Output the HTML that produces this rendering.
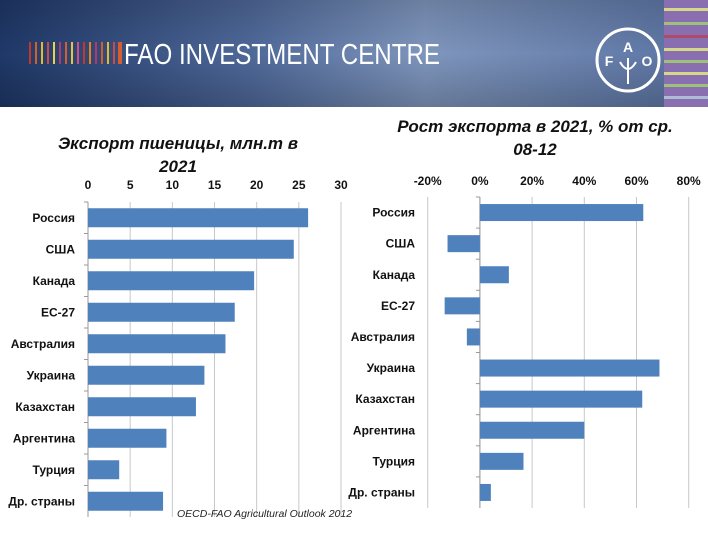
<!DOCTYPE html>
<html><head><meta charset="utf-8"><style>
body{margin:0;width:708px;height:531px;overflow:hidden;background:#fff;font-family:"Liberation Sans","DejaVu Sans",sans-serif}
</style></head><body>
<svg width="708" height="531" xmlns="http://www.w3.org/2000/svg">
<defs>
<linearGradient id="hg" x1="0" y1="0" x2="1" y2="0">
<stop offset="0" stop-color="#1f3868"/><stop offset="0.35" stop-color="#4e6899"/><stop offset="0.6" stop-color="#7f96bd"/><stop offset="1" stop-color="#5a73a3"/>
</linearGradient>
<linearGradient id="hv" x1="0" y1="0" x2="0" y2="1">
<stop offset="0" stop-color="#000" stop-opacity="0.15"/><stop offset="0.5" stop-color="#000" stop-opacity="0"/><stop offset="1" stop-color="#000" stop-opacity="0.2"/>
</linearGradient>
</defs>
<g>
<rect x="0" y="0" width="708" height="107" fill="url(#hg)"/>
<rect x="0" y="0" width="708" height="107" fill="url(#hv)"/>
<g>
<rect x="29" y="42" width="2" height="22" fill="#c0392b"/><rect x="35" y="42" width="2" height="22" fill="#d35f2c"/>
<rect x="41" y="42" width="2" height="22" fill="#e8b930"/><rect x="47" y="42" width="2" height="22" fill="#c94b4b"/>
<rect x="53" y="42" width="2" height="22" fill="#e7d44a"/><rect x="59" y="42" width="2" height="22" fill="#b03a6a"/>
<rect x="65" y="42" width="2" height="22" fill="#d55d2e"/><rect x="71" y="42" width="2" height="22" fill="#e8c540"/>
<rect x="77" y="42" width="2" height="22" fill="#cc4f8a"/><rect x="83" y="42" width="2" height="22" fill="#c0392b"/>
<rect x="89" y="42" width="2" height="22" fill="#e67e22"/><rect x="95" y="42" width="2" height="22" fill="#b03a6a"/>
<rect x="101" y="42" width="2" height="22" fill="#d35f2c"/><rect x="107" y="42" width="2" height="22" fill="#e8b930"/>
<rect x="113" y="42" width="2" height="22" fill="#c94b4b"/><rect x="118" y="42" width="4" height="22" fill="#d55d2e"/>
</g>
<text x="124" y="64" fill="#fff" font-size="29" textLength="316" lengthAdjust="spacingAndGlyphs">FAO INVESTMENT CENTRE</text>
<g>
<circle cx="628" cy="60" r="31" fill="none" stroke="#fff" stroke-width="3"/>
<text x="628" y="52" fill="#fff" font-size="14" font-weight="bold" text-anchor="middle">A</text>
<text x="609" y="66" fill="#fff" font-size="14" font-weight="bold" text-anchor="middle">F</text>
<text x="647" y="66" fill="#fff" font-size="14" font-weight="bold" text-anchor="middle">O</text>
<path d="M628 58 L628 84 M620 62 Q628 76 636 62" stroke="#fff" stroke-width="2" fill="none"/>
</g>
<g>
<rect x="664" y="0" width="44" height="107" fill="#8a6fb0"/>
<rect x="664" y="8" width="44" height="3" fill="#d4d98a"/><rect x="664" y="22" width="44" height="3" fill="#9fc07a"/>
<rect x="664" y="35" width="44" height="3" fill="#b04a6a"/><rect x="664" y="48" width="44" height="3" fill="#d4d98a"/>
<rect x="664" y="60" width="44" height="3" fill="#9fc07a"/><rect x="664" y="72" width="44" height="3" fill="#d4d98a"/>
<rect x="664" y="84" width="44" height="3" fill="#9fc07a"/><rect x="664" y="96" width="44" height="3" fill="#aebbd4"/>
</g>
</g>
<text x="178" y="149" font-size="17" font-style="italic" font-weight="bold" text-anchor="middle" fill="#111"><tspan x="178">Экспорт пшеницы, млн.т в</tspan><tspan x="178" dy="23">2021</tspan></text>
<text x="535" y="132" font-size="17" font-style="italic" font-weight="bold" text-anchor="middle" fill="#111"><tspan x="535">Рост экспорта в 2021, % от ср.</tspan><tspan x="535" dy="23">08-12</tspan></text>
<g id="left"></g>
<g id="right"></g>
<text x="177" y="517" font-size="10.5" font-style="italic" fill="#222">OECD-FAO Agricultural Outlook 2012</text>
</svg>
<script>
const categories=["Россия","США","Канада","ЕС-27","Австралия","Украина","Казахстан","Аргентина","Турция","Др. страны"];
const exportValues=[26.1,24.4,19.7,17.4,16.3,13.8,12.8,9.3,3.7,8.9];
const growthValues=[62.6,-12.4,11.1,-13.5,-5,68.8,62.2,40,16.7,4.2];
const leftTicks=[0,5,10,15,20,25,30];
const rightTicks=[-20,0,20,40,60,80];
const NS="http://www.w3.org/2000/svg";
function mk(p,t,a){const e=document.createElementNS(NS,t);for(const k in a)e.setAttribute(k,a[k]);p.appendChild(e);return e;}
function chart(g,vals,ticks,x0,x1,top,bot,barH,labelX,tickY,fmt,pfx){
  const dmin=ticks[0],dmax=ticks[ticks.length-1];
  const sx=v=>x0+(v-dmin)/(dmax-dmin)*(x1-x0);
  const band=(bot-top)/categories.length;
  ticks.forEach(t=>{
    const l=mk(g,'line',{x1:sx(t),x2:sx(t),y1:top,y2:bot,stroke:'#c8c8c8','stroke-width':1});
    
    
    const tx=mk(g,'text',{x:sx(t),y:tickY,'font-size':12,'font-weight':'bold','text-anchor':'middle',fill:'#111'});
    tx.textContent=fmt(t);
    
    
  });
  const zx=sx(Math.max(0,dmin));
  const ax=mk(g,'line',{x1:zx,x2:zx,y1:top,y2:bot,stroke:'#999','stroke-width':1});
  
  
  categories.forEach((c,i)=>{
    const yc=top+band*(i+0.5);
    const tk=mk(g,'line',{x1:zx-4,x2:zx,y1:top+band*i,y2:top+band*i,stroke:'#999'});
    
    
    const v=vals[i];
    const r=mk(g,'rect',{x:Math.min(sx(v),zx),y:yc-barH/2,width:Math.abs(sx(v)-zx),height:barH,fill:'#4f81bd'});
    
    
    const t=mk(g,'text',{x:labelX,y:yc+4,'font-size':12,'font-weight':'bold','text-anchor':'end',fill:'#111'});
    t.textContent=c;
    
    
  });
}
chart(document.getElementById('left'),exportValues,leftTicks,88,341,202,517,19,75,189,t=>t,'left');
chart(document.getElementById('right'),growthValues,rightTicks,427.7,688.7,197,508,17,415,185,t=>t+'%','right');
</script>
</body></html>
